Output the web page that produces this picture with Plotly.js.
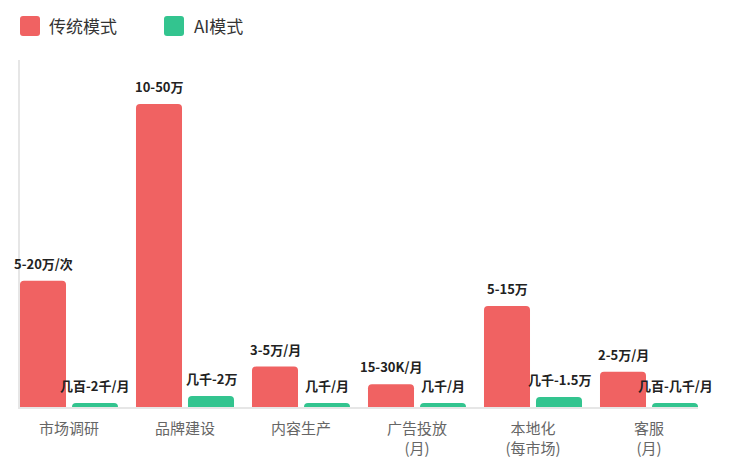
<!DOCTYPE html>
<html>
<head>
<meta charset="utf-8">
<script src="https://cdn.plot.ly/plotly-3.0.1.min.js"></script>
<style>
  html, body { margin: 0; padding: 0; background: #fff; }
  #chart { width: 746px; height: 468px; }
</style>
</head>
<body>
<div id="chart"></div>
<script>
// categories and values (万), bar heights
var categories = ["市场调研", "品牌建设", "内容生产", "广告投放<br>(月)", "本地化<br>(每市场)", "客服<br>(月)"];
var traditionalValues = [12.5, 30, 4, 2.25, 10, 3.5];
var aiValues = [0.4, 1.1, 0.4, 0.4, 1.0, 0.4];
var traditionalLabels = ["5-20万/次", "10-50万", "3-5万/月", "15-30K/月", "5-15万", "2-5万/月"];
var aiLabels = ["几百-2千/月", "几千-2万", "几千/月", "几千/月", "几千-1.5万", "几百-几千/月"];
var seriesNames = ["传统模式", "AI模式"];

var red = "#F06262";
var green = "#33C48F";
var fontFamily = "'Noto Sans CJK SC', 'Noto Sans', sans-serif";

var data = [
  {
    type: "bar",
    name: seriesNames[0],
    x: categories,
    y: traditionalValues,
    marker: { color: red, cornerradius: 4 },
    hoverinfo: "none"
  },
  {
    type: "bar",
    name: seriesNames[1],
    x: categories,
    y: aiValues,
    marker: { color: green, cornerradius: 4 },
    hoverinfo: "none"
  }
];

// value labels over bars
var annotations = [];
for (var i = 0; i < categories.length; i++) {
  annotations.push({
    x: categories[i], y: traditionalValues[i], xref: "x", yref: "y",
    text: traditionalLabels[i], showarrow: false,
    xanchor: "center", yanchor: "bottom", xshift: -26, yshift: 6,
    font: { family: fontFamily, size: 13, color: "#222", weight: "bold" }
  });
  annotations.push({
    x: categories[i], y: aiValues[i], xref: "x", yref: "y",
    text: aiLabels[i], showarrow: false,
    xanchor: "center", yanchor: "bottom", xshift: 26, yshift: 6,
    font: { family: fontFamily, size: 13, color: "#222", weight: "bold" }
  });
}

// legend drawn by hand so the swatches can be bigger
var swatch = "M 3 -10 L 17 -10 Q 20 -10 20 -7 L 20 7 Q 20 10 17 10 L 3 10 Q 0 10 0 7 L 0 -7 Q 0 -10 3 -10 Z";
var legendY = 1.098;
var shapes = [
  { type: "path", xref: "paper", yref: "paper", xsizemode: "pixel", ysizemode: "pixel",
    xanchor: 0, yanchor: legendY, path: swatch, fillcolor: red, line: { width: 0 } },
  { type: "path", xref: "paper", yref: "paper", xsizemode: "pixel", ysizemode: "pixel",
    xanchor: 144 / 678, yanchor: legendY, path: swatch, fillcolor: green, line: { width: 0 } }
];
annotations.push({
  x: 0, y: legendY, xref: "paper", yref: "paper", xshift: 27,
  xanchor: "left", yanchor: "middle", showarrow: false, text: seriesNames[0],
  font: { family: fontFamily, size: 17, color: "#333" }
});
annotations.push({
  x: 144 / 678, y: legendY, xref: "paper", yref: "paper", xshift: 28,
  xanchor: "left", yanchor: "middle", showarrow: false, text: seriesNames[1],
  font: { family: fontFamily, size: 17, color: "#333" }
});

var layout = {
  width: 746,
  height: 468,
  margin: { l: 20, r: 48, t: 60, b: 61 },
  paper_bgcolor: "#fff",
  plot_bgcolor: "#fff",
  font: { family: fontFamily },
  showlegend: false,
  barmode: "group",
  bargap: 0.1034,
  bargroupgap: 0.115,
  xaxis: {
    type: "category",
    range: [-0.4224, 5.4224],
    showline: true,
    linecolor: "#e6e6e6",
    linewidth: 2,
    showgrid: false,
    zeroline: false,
    ticks: "",
    ticklabelstandoff: 7,
    tickfont: { family: fontFamily, size: 15, color: "#666" },
    fixedrange: true
  },
  yaxis: {
    range: [0, 34.36],
    showline: true,
    linecolor: "#e6e6e6",
    linewidth: 2,
    showgrid: false,
    zeroline: false,
    showticklabels: false,
    ticks: "",
    fixedrange: true
  },
  shapes: shapes,
  annotations: annotations
};

Plotly.newPlot("chart", data, layout, { displayModeBar: false, staticPlot: true });
</script>
</body>
</html>
